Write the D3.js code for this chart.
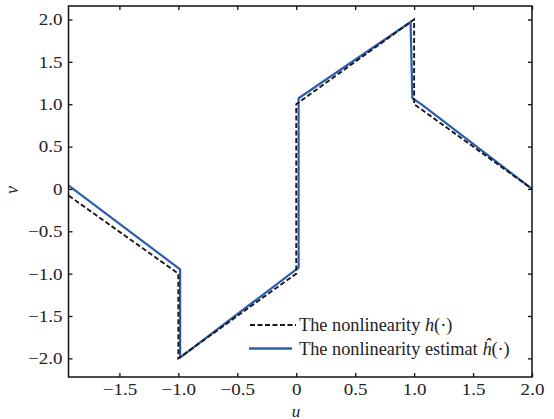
<!DOCTYPE html>
<html><head><meta charset="utf-8">
<script src="https://cdn.jsdelivr.net/npm/d3@7"></script>
<style>body{margin:0;background:#fff}svg{display:block} text{font-family:"Liberation Serif","Times New Roman",Times,"DejaVu Serif",serif !important;}</style>
</head><body>
<script>
const trueU = [-1.93, -1.0, -1.0, 0.0, 0.0, 1.0, 1.0, 2.0];
const trueV = [-0.08, -1.0, -2.0, -1.0, 1.0, 2.0, 1.0, 0.0];
const estU = [-1.93, -0.985, -0.985, 0.02, 0.02, 0.97, 0.985, 1.06, 2.0];
const estV = [0.04, -0.95, -1.99, -0.93, 1.07, 1.97, 1.07, 1.0, 0.0];
const xTicks = [-1.5, -1.0, -0.5, 0, 0.5, 1.0, 1.5, 2.0];
const yTicks = [-2.0, -1.5, -1.0, -0.5, 0, 0.5, 1.0, 1.5, 2.0];
const legendLabels = ["The nonlinearity ", "The nonlinearity estimat "];

const W = 554, H = 419;
const L = 68.5, R = 532, T = 6, B = 377;
const svg = d3.select("body").append("svg").attr("width", W).attr("height", H);

const x = d3.scaleLinear().domain([-1.932, 2.0]).range([L, R]);
const y = d3.scaleLinear().domain([-2.22, 2.159]).range([B, T]);

const fmt = d => d === 0 ? "0" : (d < 0 ? "\u2212" : "") + Math.abs(d).toFixed(1);

// curves
const line = d3.line().x(d => x(d[0])).y(d => y(d[1]));
const estData = estU.map((u, i) => [u, estV[i]]);
const trueData = trueU.map((u, i) => [u, trueV[i]]);
svg.append("path").datum(estData).attr("d", line).attr("fill", "none")
  .attr("stroke", "#2b5cad").attr("stroke-width", 2.2).attr("stroke-linejoin", "round");
svg.append("path").datum(trueData).attr("d", line).attr("fill", "none")
  .attr("stroke", "#1a1a1a").attr("stroke-width", 1.9).attr("stroke-dasharray", "5,2.5");

// axes
const tl = 4, sx = 1.12;
const ax = svg.append("g");
const gx = ax.append("g").attr("transform", `translate(0,${B})`)
  .call(d3.axisBottom(x).tickValues(xTicks).tickSizeInner(-tl).tickSizeOuter(0).tickPadding(5.5).tickFormat(fmt));
ax.append("g").attr("transform", `translate(0,${T})`)
  .call(d3.axisTop(x).tickValues(xTicks).tickSizeInner(-tl).tickSizeOuter(0).tickFormat(""));
const gy = ax.append("g").attr("transform", `translate(${L},0)`)
  .call(d3.axisLeft(y).tickValues(yTicks).tickSizeInner(-tl).tickSizeOuter(0).tickPadding(6).tickFormat(fmt));
ax.append("g").attr("transform", `translate(${R},0)`)
  .call(d3.axisRight(y).tickValues(yTicks).tickSizeInner(-tl).tickSizeOuter(0).tickFormat(""));
ax.selectAll(".domain").remove();
ax.selectAll("g").attr("font-family", null);
ax.selectAll("line").attr("stroke", "#111").attr("stroke-width", 1.3);
ax.selectAll("text").attr("font-size", 17).attr("fill", "#222");
gx.selectAll("text").attr("transform", `scale(${sx},1)`);
gy.selectAll("text").attr("x", -6 / sx).attr("transform", `scale(${sx},1)`);
svg.append("rect").attr("x", L).attr("y", T).attr("width", R - L).attr("height", B - T)
  .attr("fill", "none").attr("stroke", "#111").attr("stroke-width", 1.5);

// axis labels
svg.append("text").attr("x", 296).attr("y", 416.5).attr("text-anchor", "middle")
  .attr("font-size", 17).attr("font-style", "italic").attr("fill", "#222").text("u");
svg.append("text").attr("transform", "translate(18,190) rotate(-90)").attr("text-anchor", "middle")
  .attr("font-size", 18).attr("font-style", "italic").attr("fill", "#222").text("v");

// legend
const lg = svg.append("g");
lg.append("line").attr("x1", 250).attr("x2", 296).attr("y1", 325).attr("y2", 325)
  .attr("stroke", "#1a1a1a").attr("stroke-width", 1.9).attr("stroke-dasharray", "5,2.5");
lg.append("line").attr("x1", 249).attr("x2", 292).attr("y1", 348.5).attr("y2", 348.5)
  .attr("stroke", "#2b5cad").attr("stroke-width", 2.6);
const t1 = lg.append("text").attr("x", 299).attr("y", 330.5).attr("font-size", 18.3).attr("fill", "#222");
t1.append("tspan").text(legendLabels[0]);
t1.append("tspan").attr("font-style", "italic").text("h");
t1.append("tspan").text("(\u00b7)");
const t2 = lg.append("text").attr("x", 299).attr("y", 354.5).attr("font-size", 18.3).attr("fill", "#222");
t2.append("tspan").text(legendLabels[1]);
t2.append("tspan").attr("font-style", "italic").text("\u0125");
t2.append("tspan").text("(\u00b7)");
</script>
</body></html>
